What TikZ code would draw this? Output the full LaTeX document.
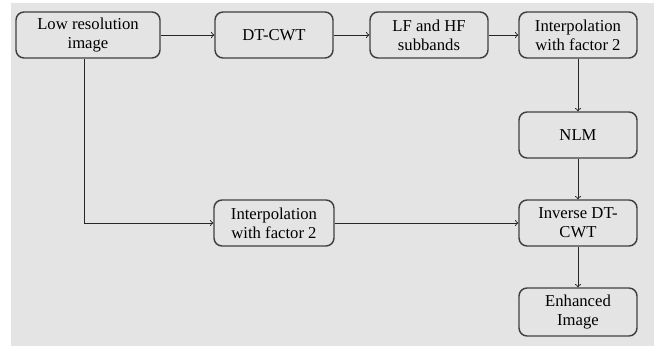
\documentclass[tikz,border=0pt]{standalone}
\usepackage{fontspec}
\setmainfont{Liberation Serif}
\usepackage{tikz}
\usetikzlibrary{calc,positioning}

\definecolor{panelgray}{RGB}{228,228,228}
\definecolor{edgegray}{RGB}{64,64,64}

\tikzset{
	block/.style={draw=edgegray, line width=1.1pt, rounded corners=6pt, fill=panelgray,
		minimum width=88.5pt, minimum height=34.5pt, align=center, inner sep=2pt,
		font=\fontsize{12.5}{14}\selectfont},
	flow/.style={->, draw=black!85, line width=0.7pt}
}

\begin{document}
\begin{tikzpicture}[x=0.75pt, y=-0.75pt]
	\useasboundingbox (0,0) rectangle (654,346);
	\fill[panelgray] (11,3) rectangle (654,346);

	% top row
	\node[block, minimum width=108pt] (low) at (88,35) {Low resolution\\image};
	\node[block] (dtcwt) at (274,35) {DT-CWT};
	\node[block] (bands) at (429,35) {LF and HF\\subbands};
	\node[block] (interpA) at (578,35) {Interpolation\\with factor 2};

	% right column
	\node[block] (nlm) at (578,135) {NLM};
	\node[block] (inverse) at (578,223) {Inverse DT-\\CWT};
	\node[block, minimum height=36pt] (enhanced) at (578,312) {Enhanced\\Image};

	% lower branch
	\node[block, minimum width=90pt] (interpB) at (274,223) {Interpolation\\with factor 2};
	\coordinate (bend) at (84,223);

	\draw[flow] (low) -- (dtcwt);
	\draw[flow] (dtcwt) -- (bands);
	\draw[flow] (bands) -- (interpA);
	\draw[flow] (interpA) -- (nlm);
	\draw[flow] (nlm) -- (inverse);
	\draw[flow] (inverse) -- (enhanced);
	\draw[flow] (low.south -| bend) -- (bend) -- (interpB);
	\draw[flow] (interpB) -- (inverse);
\end{tikzpicture}
\end{document}
